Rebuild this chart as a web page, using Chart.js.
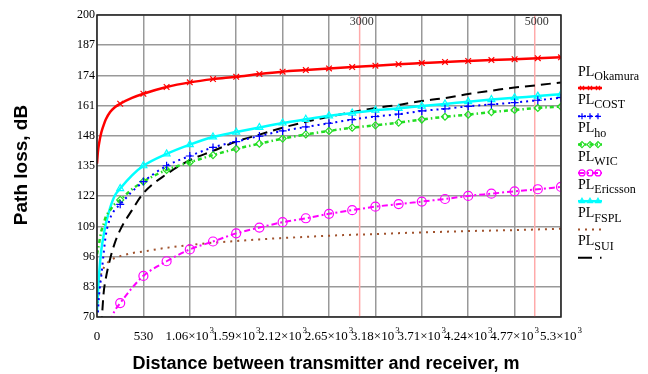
<!DOCTYPE html>
<html>
<head>
<meta charset="utf-8">
<script src="https://cdn.jsdelivr.net/npm/chart.js@4.4.1/dist/chart.umd.min.js"></script>
<style>
  html, body { margin: 0; padding: 0; background: #fff; }
  #wrap { width: 648px; height: 374px; }
</style>
</head>
<body>
<div id="wrap"><canvas id="lossChart" width="648" height="374"></canvas></div>
<script>
// distance, m
const distance = [0, 10, 25, 50, 75, 100, 150, 200, 265, 400, 530, 795, 1060, 1325, 1590, 1855, 2120, 2385, 2650, 2915, 3180, 3445, 3710, 3975, 4240, 4505, 4770, 5035, 5300];

// path loss, dB
const plOkamura = [136, 141, 145, 149.5, 152.5, 155, 158.2, 160.2, 161.8, 164.3, 166.1, 169.0, 171.0, 172.4, 173.4, 174.6, 175.6, 176.3, 177.0, 177.6, 178.2, 178.8, 179.3, 179.8, 180.2, 180.6, 181.0, 181.4, 181.8];
const plCost = [null, 72, 80, 88, 97, 105, 112.5, 116, 118.5, 124, 128.3, 135.1, 139.3, 143.0, 145.5, 147.9, 150.1, 151.8, 153.4, 155.0, 156.3, 157.3, 158.7, 159.6, 160.7, 161.5, 162.3, 163.3, 164.4];
const plHo = [97, 99, 102, 107, 110, 113, 116, 118.5, 120.4, 125, 128.3, 133.3, 136.6, 139.7, 142.4, 144.6, 146.8, 148.6, 150.1, 151.5, 152.5, 153.7, 155.0, 156.2, 157.1, 158.2, 159.1, 160.0, 160.6];
const plWic = [null, null, null, null, null, null, 68, 72.5, 76, 82.5, 87.7, 94.0, 99.1, 102.5, 106.0, 108.5, 110.8, 112.5, 114.4, 116.0, 117.5, 118.6, 119.7, 120.8, 122.1, 123.1, 124.1, 125.0, 126.0];
const plEricsson = [72, 80, 89, 99, 105, 110, 117, 122, 125.3, 131, 135.1, 140.2, 144.2, 147.5, 149.6, 151.6, 153.5, 155.1, 156.6, 157.8, 159.0, 159.8, 160.8, 161.7, 162.7, 163.6, 164.4, 165.1, 165.9];
const plFspl = [null, 76, 84, 89, 91, 92.5, 94.3, 95.4, 96.2, 97.5, 98.2, 99.8, 101.0, 102.0, 102.7, 103.4, 104.0, 104.5, 105.0, 105.4, 105.7, 106.1, 106.4, 106.7, 107.0, 107.2, 107.4, 107.7, 108.0];
const plSui = [null, null, null, 66, 80, 86.5, 95, 101.5, 107.5, 116, 123.3, 131.5, 137.5, 141.5, 145.5, 148.5, 151.5, 154, 156.2, 158.2, 160.0, 161.3, 163.0, 164.2, 166.0, 167.4, 168.8, 169.8, 171.0];

const modelNames = ["Okamura", "COST", "ho", "WIC", "Ericsson", "FSPL", "SUI"];
const markedDistances = [3000, 5000];
const xTitle = "Distance between transmitter and receiver, m";
const yTitle = "Path loss, dB";

function toPoints(values) {
  return distance.map((d, i) => ({ x: d, y: values[i] }));
}

// markers only every 265 m
function markerRadius(r) {
  return function (ctx) {
    const d = distance[ctx.dataIndex];
    return d > 0 && d % 265 === 0 ? r : 0;
  };
}

function makeSet(name, values, color, width, dash, style, r, legendDash) {
  return {
    label: "PL" + name,
    sub: name,
    data: toPoints(values),
    borderColor: color,
    borderWidth: width,
    borderDash: dash,
    legendDash: legendDash || dash,
    pointStyle: style || false,
    markerRadius: r,
    pointRadius: style ? markerRadius(r) : 0,
    pointBorderColor: color,
    pointBackgroundColor: "rgba(0,0,0,0)",
    pointBorderWidth: 1.2,
    pointHoverRadius: 0,
    cubicInterpolationMode: "monotone",
    fill: false,
  };
}

const datasets = [
  makeSet("Okamura", plOkamura, "#ff0000", 2.5, [], "crossRot", 4),
  makeSet("COST", plCost, "#0000ff", 2, [2, 4], "cross", 4),
  makeSet("ho", plHo, "#22dd22", 2.5, [4, 3, 1.5, 3], "rectRot", 3.5),
  makeSet("WIC", plWic, "#ff00ff", 2, [6, 3, 2, 3], "circle", 4.5),
  makeSet("Ericsson", plEricsson, "#00ffff", 2.5, [], "triangle", 4),
  makeSet("FSPL", plFspl, "#a0522d", 2, [2, 5], null, 0),
  makeSet("SUI", plSui, "#000000", 2, [10, 6], null, 0, [14, 8, 1.5, 20]),
];

function splitDistance(v) {
  if (v === 0) return ["0", ""];
  if (v < 1000) return [String(v), ""];
  return [parseFloat((v / 1000).toFixed(2)) + "\u00d710", "3"];
}

// red marker lines at 3000 and 5000
const markerLines = {
  id: "markerLines",
  beforeDatasetsDraw(chart) {
    const { ctx, chartArea, scales } = chart;
    ctx.save();
    ctx.strokeStyle = "#ffaaaa";
    ctx.lineWidth = 1.5;
    ctx.fillStyle = "#333";
    ctx.font = '12px "Liberation Serif"';
    ctx.textAlign = "center";
    ctx.textBaseline = "middle";
    markedDistances.forEach(d => {
      const px = scales.x.getPixelForValue(d);
      ctx.beginPath();
      ctx.moveTo(px, chartArea.top);
      ctx.lineTo(px, chartArea.bottom);
      ctx.stroke();
      ctx.fillText(String(d), px + 2, chartArea.top + 7);
    });
    ctx.restore();
  },
};

// frame, x tick labels with exponents, axis titles and the legend with subscripts
const decorations = {
  id: "decorations",
  afterDraw(chart) {
    const { ctx, chartArea, scales } = chart;
    ctx.save();
    ctx.strokeStyle = "#222";
    ctx.lineWidth = 1.5;
    ctx.strokeRect(chartArea.left, chartArea.top, chartArea.right - chartArea.left, chartArea.bottom - chartArea.top);

    ctx.fillStyle = "#000";
    ctx.textBaseline = "alphabetic";
    scales.x.ticks.forEach(t => {
      const px = scales.x.getPixelForValue(t.value);
      const parts = splitDistance(t.value);
      ctx.font = '13px "Liberation Serif"';
      const w1 = ctx.measureText(parts[0]).width;
      ctx.font = '9px "Liberation Serif"';
      const w2 = parts[1] ? ctx.measureText(parts[1]).width + 1 : 0;
      const left = px - (w1 + w2) / 2;
      ctx.textAlign = "left";
      ctx.font = '13px "Liberation Serif"';
      ctx.fillText(parts[0], left, 340);
      if (parts[1]) {
        ctx.font = '9px "Liberation Serif"';
        ctx.fillText(parts[1], left + w1 + 1, 333);
      }
    });

    ctx.textAlign = "center";
    ctx.textBaseline = "middle";
    ctx.font = 'bold 18px "Liberation Sans"';
    ctx.fillText(xTitle, 326, 364);
    ctx.translate(22, 165);
    ctx.rotate(-Math.PI / 2);
    ctx.font = 'bold 19px "Liberation Sans"';
    ctx.fillText(yTitle, 0, 0);
    ctx.restore();

    const x0 = 578;
    chart.data.datasets.forEach((ds, i) => {
      const y = 72 + i * 28.3;
      ctx.save();
      ctx.fillStyle = "#000";
      ctx.textAlign = "left";
      ctx.textBaseline = "middle";
      ctx.font = '14px "Liberation Serif"';
      ctx.fillText("PL", x0, y);
      const w = ctx.measureText("PL").width;
      ctx.font = '12px "Liberation Serif"';
      ctx.fillText(ds.sub, x0 + w, y + 5);

      const ly = y + 16;
      ctx.strokeStyle = ds.borderColor;
      ctx.lineWidth = ds.borderWidth;
      ctx.setLineDash(ds.legendDash);
      ctx.beginPath();
      ctx.moveTo(x0, ly);
      ctx.lineTo(x0 + 24, ly);
      ctx.stroke();
      ctx.setLineDash([]);
      if (ds.pointStyle) {
        ctx.lineWidth = 1.2;
        ctx.fillStyle = "rgba(0,0,0,0)";
        [x0 + 4, x0 + 12, x0 + 20].forEach(px => {
          Chart.helpers.drawPoint(ctx, { pointStyle: ds.pointStyle, radius: 3, rotation: 0, borderWidth: 1.2 }, px, ly);
        });
      }
      ctx.restore();
    });
  },
};

const ctx = document.getElementById("lossChart").getContext("2d");
window.lossChart = new Chart(ctx, {
  type: "line",
  data: { datasets: datasets },
  options: {
    responsive: false,
    animation: false,
    layout: { padding: { left: 0, right: 87, top: 15, bottom: 0 } },
    plugins: { legend: { display: false }, tooltip: { enabled: false } },
    scales: {
      x: {
        type: "linear",
        min: 0,
        max: 5300,
        afterFit(axis) { axis.height = 57; },
        afterBuildTicks(axis) {
          const t = [];
          for (let v = 0; v <= 5300; v += 530) t.push({ value: v });
          axis.ticks = t;
        },
        ticks: { display: false },
        grid: { color: "#999", lineWidth: 1.5, drawTicks: false },
        border: { display: false },
      },
      y: {
        min: 70,
        max: 200,
        afterFit(axis) { axis.width = 97; },
        ticks: {
          stepSize: 13,
          color: "#000",
          font: { family: "Liberation Serif", size: 12 },
          padding: 2,
        },
        grid: { color: "#999", lineWidth: 1.5, drawTicks: false },
        border: { display: false },
      },
    },
  },
  plugins: [markerLines, decorations],
});
</script>
</body>
</html>
